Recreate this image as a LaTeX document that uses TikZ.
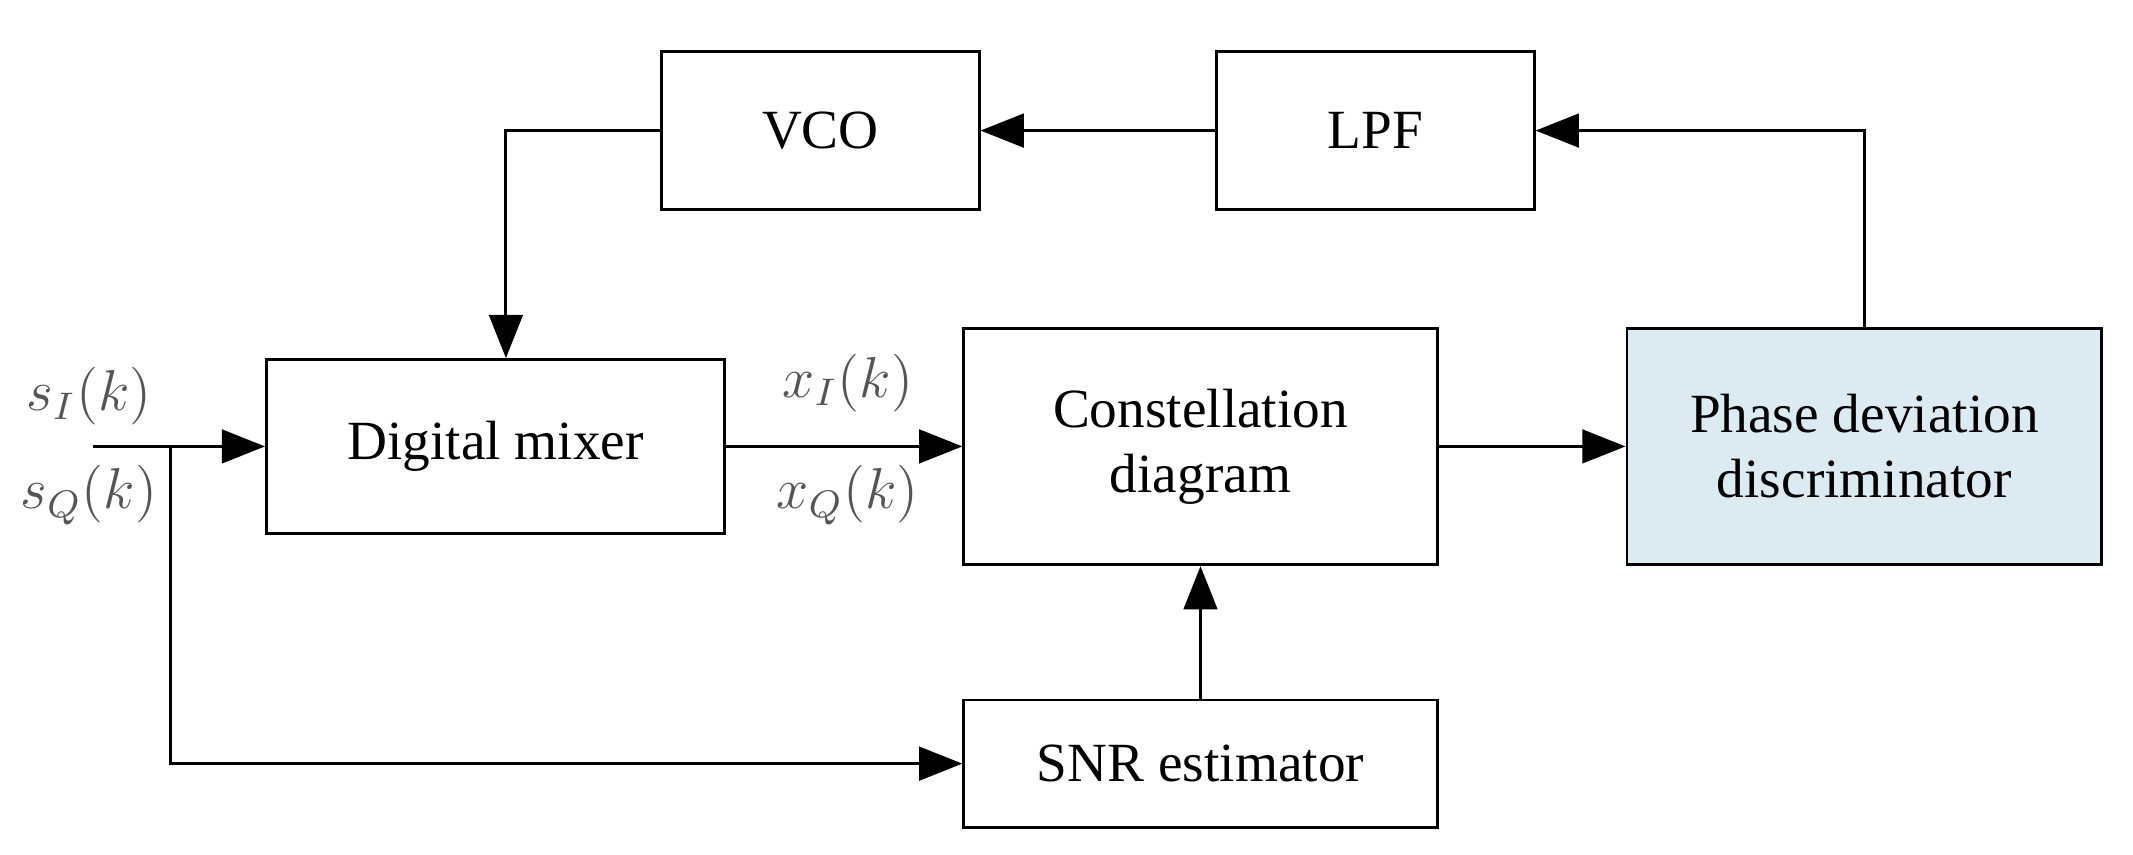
\documentclass[tikz,border=0pt]{standalone}
\usepackage{fontspec}
\setmainfont{Liberation Serif}
\usetikzlibrary{arrows.meta}
\definecolor{pdfill}{HTML}{DCEBF1}
\definecolor{lab}{HTML}{555555}
\begin{document}
\begin{tikzpicture}[x=0.01cm,y=-0.01cm,
  box/.style={draw,line width=0.6pt,inner sep=0pt,font=\fontsize{11.5}{13.5}\selectfont,align=center},
  arr/.style={line width=0.6pt,-{Triangle[length=9pt,width=7pt]}},
  ln/.style={line width=0.6pt},
  lbl/.style={text=lab,font=\fontsize{12}{14}\selectfont}]
\useasboundingbox (0,0) rectangle (1560,625);
\node[box,minimum width=2.32cm,minimum height=1.15cm] (vco) at (600,95.5) {VCO};
\node[box,minimum width=2.32cm,minimum height=1.15cm] (lpf) at (1006,95.5) {LPF};
\node[box,minimum width=3.35cm,minimum height=1.27cm] (mix) at (362.5,326.5) {Digital mixer};
\node[box,minimum width=3.46cm,minimum height=1.73cm] (con) at (878,326.5) {Constellation\\diagram};
\node[box,fill=pdfill,minimum width=3.47cm,minimum height=1.73cm] (pdd) at (1363.5,326.5) {Phase deviation\\discriminator};
\node[box,minimum width=3.46cm,minimum height=0.93cm] (snr) at (878,558.5) {SNR estimator};
\coordinate (in) at (68,326.5);
\coordinate (br) at (125,326.5);
\draw[arr] (in) -- (mix.west);
\draw[arr] (br) |- (snr.west);
\draw[arr] (mix.east) -- (con.west);
\draw[arr] (con.east) -- (pdd.west);
\draw[arr] (pdd.north) |- (lpf.east);
\draw[arr] (lpf.west) -- (vco.east);
\draw[arr] (vco.west) -| (mix.north -| 370,0);
\draw[arr] (snr.north) -- (con.south);
\node[lbl] (si) at (65,290) {$s_I(k)$};
\node[lbl] (sq) at (65,362) {$s_Q(k)$};
\node[lbl] (xi) at (620,280) {$x_I(k)$};
\node[lbl] (xq) at (620,362) {$x_Q(k)$};
\end{tikzpicture}
\end{document}
